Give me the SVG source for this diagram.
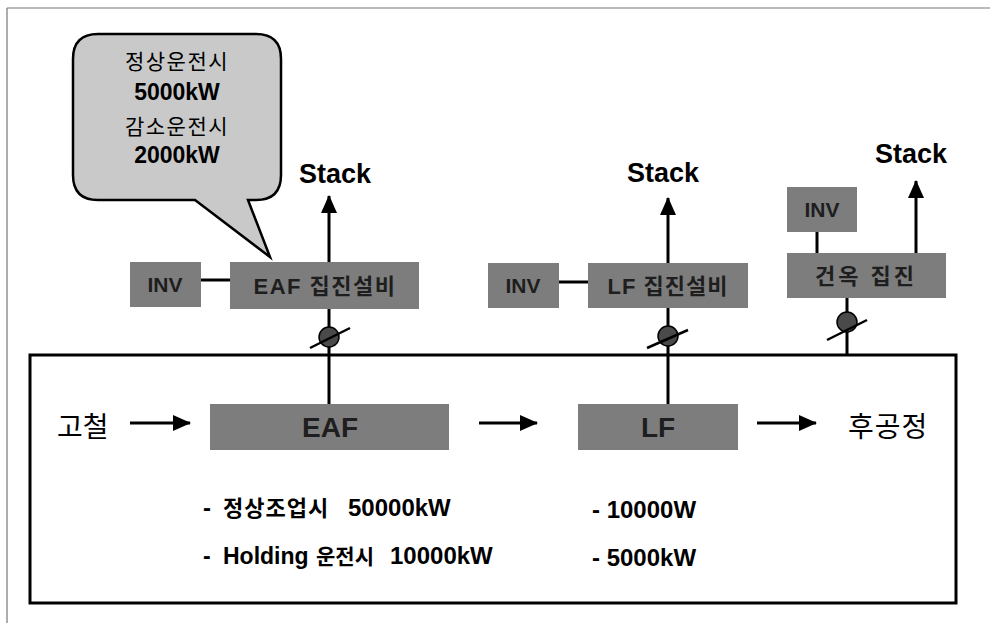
<svg xmlns="http://www.w3.org/2000/svg" width="992" height="623" viewBox="0 0 992 623">
<style>
text{font-family:"Liberation Sans","Noto Sans CJK KR",sans-serif;}
.b{font-weight:bold;}
.box{fill:#7d7d7d;}
.bt{fill:#1e1e1e;font-weight:bold;text-anchor:middle;}
.ln{stroke:#000;stroke-width:3;fill:none;}
.dmp{fill:#4a4a4a;stroke:#000;stroke-width:1.5;}
.c{text-anchor:middle;}
</style>
<defs>
<marker id="ah" viewBox="0 0 18 16" refX="17" refY="8" markerWidth="18" markerHeight="16" markerUnits="userSpaceOnUse" orient="auto">
<path d="M0,0 L18,8 L0,16 Z" fill="#000"/>
</marker>
</defs>
<rect width="992" height="623" fill="#fff"/>
<path d="M7,8 H990 M7,8 V623" stroke="#777" stroke-width="1.2" fill="none"/>

<g id="main-box"><rect x="30" y="355" width="926" height="248" fill="none" stroke="#000" stroke-width="3"/></g>

<g id="callout">
<path d="M98,34 H256 Q281,34 281,59 V175 Q281,200 256,200 H248 L270,257 L195,200 H98 Q73,200 73,175 V59 Q73,34 98,34 Z" fill="#c9c9c9" stroke="#000" stroke-width="2.5"/>
<text x="177" y="69" class="c" font-size="21" letter-spacing="1.5">정상운전시</text>
<text x="177" y="100" class="c b" font-size="23">5000kW</text>
<text x="177" y="134" class="c" font-size="21" letter-spacing="1.5">감소운전시</text>
<text x="177" y="163" class="c b" font-size="23">2000kW</text>
</g>

<g id="connectors">
<line class="ln" x1="329" y1="262" x2="329" y2="196" marker-end="url(#ah)"/>
<line class="ln" x1="668" y1="263" x2="668" y2="198" marker-end="url(#ah)"/>
<line class="ln" x1="916" y1="253" x2="916" y2="181" marker-end="url(#ah)"/>
<line class="ln" x1="201" y1="280" x2="230" y2="280"/>
<line class="ln" x1="559" y1="282" x2="588" y2="282"/>
<line class="ln" x1="817" y1="232" x2="817" y2="253"/>
<line class="ln" x1="329" y1="309" x2="329" y2="404"/>
<line class="ln" x1="668" y1="308" x2="668" y2="404"/>
<line class="ln" x1="847" y1="298" x2="847" y2="355"/>
<line class="ln" x1="130" y1="423" x2="190" y2="423" marker-end="url(#ah)"/>
<line class="ln" x1="479" y1="423" x2="537" y2="423" marker-end="url(#ah)"/>
<line class="ln" x1="757" y1="423" x2="816" y2="423" marker-end="url(#ah)"/>
</g>

<g id="damper-eaf">
<circle class="dmp" cx="329" cy="337" r="10"/>
<line x1="310" y1="348" x2="350" y2="328" stroke="#000" stroke-width="2.5"/>
</g>
<g id="damper-lf">
<circle class="dmp" cx="668" cy="336" r="10"/>
<line x1="647" y1="348" x2="688" y2="330" stroke="#000" stroke-width="2.5"/>
</g>
<g id="damper-bldg">
<circle class="dmp" cx="847" cy="322" r="10"/>
<line x1="827" y1="340" x2="867" y2="320" stroke="#000" stroke-width="2.5"/>
</g>

<g id="stack-eaf"><text x="335" y="183" class="c b" font-size="27">Stack</text></g>
<g id="stack-lf"><text x="663" y="182" class="c b" font-size="27">Stack</text></g>
<g id="stack-bldg"><text x="911" y="163" class="c b" font-size="27">Stack</text></g>

<g id="inv-eaf"><rect class="box" x="130" y="262" width="71" height="45"/><text x="165" y="292" class="bt" font-size="21">INV</text></g>
<g id="eaf-dust"><rect class="box" x="230" y="262" width="189" height="47"/><text x="325" y="294" class="bt" font-size="22" letter-spacing="1.5">EAF 집진설비</text></g>
<g id="inv-lf"><rect class="box" x="488" y="263" width="71" height="45"/><text x="523" y="293" class="bt" font-size="21">INV</text></g>
<g id="lf-dust"><rect class="box" x="588" y="263" width="160" height="45"/><text x="668" y="294" class="bt" font-size="22" letter-spacing="1">LF 집진설비</text></g>
<g id="inv-bldg"><rect class="box" x="787" y="187" width="70" height="45"/><text x="822" y="217" class="bt" font-size="21">INV</text></g>
<g id="bldg-dust"><rect class="box" x="787" y="253" width="159" height="45"/><text x="866" y="284" class="bt" font-size="22" letter-spacing="3">건옥 집진</text></g>

<g id="scrap"><text x="57" y="437" font-size="28">고철</text></g>
<g id="eaf"><rect class="box" x="210" y="404" width="239" height="46"/><text x="330" y="437" class="bt" font-size="28">EAF</text></g>
<g id="lf"><rect class="box" x="578" y="404" width="160" height="46"/><text x="658" y="437" class="bt" font-size="28">LF</text></g>
<g id="post"><text x="848" y="437" font-size="28" letter-spacing="1">후공정</text></g>

<g id="eaf-notes">
<text y="516" class="b" font-size="24"><tspan x="203">-</tspan><tspan x="223" font-size="22" letter-spacing="1">정상조업시</tspan><tspan x="348">50000kW</tspan></text>
<text y="564" class="b" font-size="23"><tspan x="203">-</tspan><tspan x="223">Holding</tspan><tspan x="316" font-size="21">운전시</tspan><tspan x="390" font-size="24">10000kW</tspan></text>
</g>
<g id="lf-notes">
<text x="592" y="518" class="b" font-size="24">- 10000W</text>
<text x="592" y="566" class="b" font-size="24">- 5000kW</text>
</g>
</svg>
